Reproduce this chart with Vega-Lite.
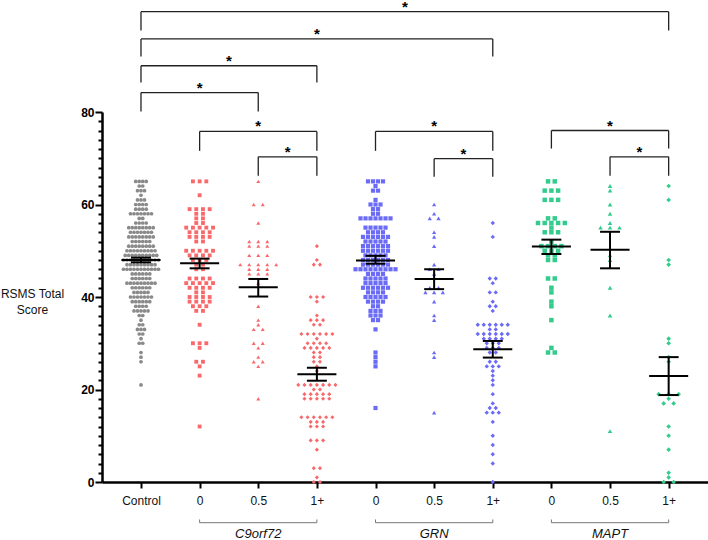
{
"$schema": "https://vega.github.io/schema/vega-lite/v6.json",
"width": 606,
"height": 370,
"autosize": {"type": "none"},
"padding": {"left": 102, "top": 112, "right": 0, "bottom": 58},
"config": {"view": {"stroke": null}, "font": "Liberation Sans"},
"datasets": {
"points": [
{"group":0,"score":65},{"group":0,"score":65},{"group":0,"score":65},{"group":0,"score":65},
{"group":0,"score":64},{"group":0,"score":64},
{"group":0,"score":63},{"group":0,"score":63},{"group":0,"score":63},
{"group":0,"score":62},
{"group":0,"score":61},{"group":0,"score":61},{"group":0,"score":61},
{"group":0,"score":60},{"group":0,"score":60},{"group":0,"score":60},{"group":0,"score":60},
{"group":0,"score":59},{"group":0,"score":59},{"group":0,"score":59},{"group":0,"score":59},
{"group":0,"score":58},{"group":0,"score":58},{"group":0,"score":58},{"group":0,"score":58},{"group":0,"score":58},{"group":0,"score":58},{"group":0,"score":58},
{"group":0,"score":57},{"group":0,"score":57},
{"group":0,"score":56},{"group":0,"score":56},{"group":0,"score":56},{"group":0,"score":56},
{"group":0,"score":55},{"group":0,"score":55},{"group":0,"score":55},{"group":0,"score":55},{"group":0,"score":55},{"group":0,"score":55},{"group":0,"score":55},{"group":0,"score":55},
{"group":0,"score":54},{"group":0,"score":54},{"group":0,"score":54},{"group":0,"score":54},{"group":0,"score":54},{"group":0,"score":54},{"group":0,"score":54},
{"group":0,"score":53},{"group":0,"score":53},{"group":0,"score":53},{"group":0,"score":53},{"group":0,"score":53},{"group":0,"score":53},{"group":0,"score":53},{"group":0,"score":53},
{"group":0,"score":52},{"group":0,"score":52},{"group":0,"score":52},{"group":0,"score":52},{"group":0,"score":52},{"group":0,"score":52},
{"group":0,"score":51},{"group":0,"score":51},{"group":0,"score":51},{"group":0,"score":51},{"group":0,"score":51},{"group":0,"score":51},{"group":0,"score":51},{"group":0,"score":51},
{"group":0,"score":50},{"group":0,"score":50},{"group":0,"score":50},{"group":0,"score":50},{"group":0,"score":50},{"group":0,"score":50},{"group":0,"score":50},{"group":0,"score":50},{"group":0,"score":50},
{"group":0,"score":49},{"group":0,"score":49},{"group":0,"score":49},{"group":0,"score":49},{"group":0,"score":49},{"group":0,"score":49},{"group":0,"score":49},{"group":0,"score":49},{"group":0,"score":49},{"group":0,"score":49},
{"group":0,"score":48},{"group":0,"score":48},{"group":0,"score":48},{"group":0,"score":48},{"group":0,"score":48},{"group":0,"score":48},{"group":0,"score":48},{"group":0,"score":48},{"group":0,"score":48},{"group":0,"score":48},{"group":0,"score":48},
{"group":0,"score":47},{"group":0,"score":47},{"group":0,"score":47},{"group":0,"score":47},{"group":0,"score":47},{"group":0,"score":47},{"group":0,"score":47},{"group":0,"score":47},{"group":0,"score":47},
{"group":0,"score":46},{"group":0,"score":46},{"group":0,"score":46},{"group":0,"score":46},{"group":0,"score":46},{"group":0,"score":46},{"group":0,"score":46},{"group":0,"score":46},{"group":0,"score":46},{"group":0,"score":46},{"group":0,"score":46},
{"group":0,"score":45},{"group":0,"score":45},{"group":0,"score":45},{"group":0,"score":45},{"group":0,"score":45},{"group":0,"score":45},
{"group":0,"score":44},{"group":0,"score":44},{"group":0,"score":44},{"group":0,"score":44},{"group":0,"score":44},{"group":0,"score":44},
{"group":0,"score":43},{"group":0,"score":43},{"group":0,"score":43},{"group":0,"score":43},{"group":0,"score":43},{"group":0,"score":43},{"group":0,"score":43},{"group":0,"score":43},{"group":0,"score":43},
{"group":0,"score":42},{"group":0,"score":42},{"group":0,"score":42},{"group":0,"score":42},{"group":0,"score":42},{"group":0,"score":42},
{"group":0,"score":41},{"group":0,"score":41},{"group":0,"score":41},{"group":0,"score":41},{"group":0,"score":41},
{"group":0,"score":40},{"group":0,"score":40},{"group":0,"score":40},{"group":0,"score":40},{"group":0,"score":40},{"group":0,"score":40},{"group":0,"score":40},
{"group":0,"score":39},{"group":0,"score":39},{"group":0,"score":39},{"group":0,"score":39},{"group":0,"score":39},{"group":0,"score":39},
{"group":0,"score":38},{"group":0,"score":38},{"group":0,"score":38},{"group":0,"score":38},
{"group":0,"score":37},{"group":0,"score":37},{"group":0,"score":37},{"group":0,"score":37},{"group":0,"score":37},
{"group":0,"score":36},{"group":0,"score":36},
{"group":0,"score":35},
{"group":0,"score":34},{"group":0,"score":34},
{"group":0,"score":33},{"group":0,"score":33},{"group":0,"score":33},
{"group":0,"score":32},{"group":0,"score":32},
{"group":0,"score":31},
{"group":0,"score":30},{"group":0,"score":30},
{"group":0,"score":28},{"group":0,"score":27},{"group":0,"score":26},{"group":0,"score":21},

{"group":1,"score":65},{"group":1,"score":65},{"group":1,"score":65},
{"group":1,"score":62},
{"group":1,"score":59},{"group":1,"score":59},{"group":1,"score":59},{"group":1,"score":59},
{"group":1,"score":58},{"group":1,"score":58},
{"group":1,"score":57},{"group":1,"score":57},
{"group":1,"score":56},{"group":1,"score":56},
{"group":1,"score":55},{"group":1,"score":55},{"group":1,"score":55},{"group":1,"score":55},{"group":1,"score":55},
{"group":1,"score":54},{"group":1,"score":54},{"group":1,"score":54},{"group":1,"score":54},
{"group":1,"score":53},{"group":1,"score":53},{"group":1,"score":53},{"group":1,"score":53},
{"group":1,"score":52},{"group":1,"score":52},
{"group":1,"score":50},{"group":1,"score":50},{"group":1,"score":50},{"group":1,"score":50},{"group":1,"score":50},
{"group":1,"score":49},{"group":1,"score":49},{"group":1,"score":49},{"group":1,"score":49},
{"group":1,"score":48},{"group":1,"score":48},{"group":1,"score":48},
{"group":1,"score":47},{"group":1,"score":47},
{"group":1,"score":46},{"group":1,"score":46},
{"group":1,"score":44},{"group":1,"score":44},{"group":1,"score":44},{"group":1,"score":44},
{"group":1,"score":43},{"group":1,"score":43},{"group":1,"score":43},{"group":1,"score":43},{"group":1,"score":43},
{"group":1,"score":42},{"group":1,"score":42},{"group":1,"score":42},{"group":1,"score":42},
{"group":1,"score":41},{"group":1,"score":41},
{"group":1,"score":40},{"group":1,"score":40},{"group":1,"score":40},{"group":1,"score":40},
{"group":1,"score":39},{"group":1,"score":39},{"group":1,"score":39},{"group":1,"score":39},
{"group":1,"score":38},{"group":1,"score":38},{"group":1,"score":38},
{"group":1,"score":37},{"group":1,"score":37},
{"group":1,"score":34},
{"group":1,"score":30},{"group":1,"score":30},{"group":1,"score":30},
{"group":1,"score":29},
{"group":1,"score":26},{"group":1,"score":26},
{"group":1,"score":25},{"group":1,"score":23},{"group":1,"score":12},

{"group":2,"score":65},
{"group":2,"score":60},{"group":2,"score":60},
{"group":2,"score":56},
{"group":2,"score":52},{"group":2,"score":52},{"group":2,"score":52},
{"group":2,"score":51},{"group":2,"score":51},{"group":2,"score":51},
{"group":2,"score":49},{"group":2,"score":49},{"group":2,"score":49},
{"group":2,"score":47},{"group":2,"score":47},{"group":2,"score":47},{"group":2,"score":47},{"group":2,"score":47},
{"group":2,"score":46},{"group":2,"score":46},{"group":2,"score":46},
{"group":2,"score":45},{"group":2,"score":45},{"group":2,"score":45},
{"group":2,"score":43},{"group":2,"score":38},{"group":2,"score":35},{"group":2,"score":34},
{"group":2,"score":33},{"group":2,"score":33},
{"group":2,"score":30},{"group":2,"score":30},
{"group":2,"score":29},{"group":2,"score":27},
{"group":2,"score":26},{"group":2,"score":26},
{"group":2,"score":25},{"group":2,"score":18},

{"group":3,"score":51},{"group":3,"score":48},
{"group":3,"score":47},{"group":3,"score":47},
{"group":3,"score":40},{"group":3,"score":40},{"group":3,"score":40},
{"group":3,"score":39},{"group":3,"score":36},
{"group":3,"score":35},{"group":3,"score":35},{"group":3,"score":35},
{"group":3,"score":34},{"group":3,"score":34},
{"group":3,"score":32},{"group":3,"score":32},{"group":3,"score":32},{"group":3,"score":32},{"group":3,"score":32},{"group":3,"score":32},
{"group":3,"score":31},
{"group":3,"score":30},{"group":3,"score":30},{"group":3,"score":30},{"group":3,"score":30},
{"group":3,"score":29},{"group":3,"score":29},{"group":3,"score":29},{"group":3,"score":29},{"group":3,"score":29},
{"group":3,"score":28},{"group":3,"score":28},
{"group":3,"score":27},{"group":3,"score":27},
{"group":3,"score":26},{"group":3,"score":26},
{"group":3,"score":25},{"group":3,"score":24},
{"group":3,"score":21},{"group":3,"score":21},{"group":3,"score":21},{"group":3,"score":21},{"group":3,"score":21},{"group":3,"score":21},{"group":3,"score":21},
{"group":3,"score":20},{"group":3,"score":20},
{"group":3,"score":19},{"group":3,"score":19},{"group":3,"score":19},{"group":3,"score":19},{"group":3,"score":19},
{"group":3,"score":18},{"group":3,"score":18},{"group":3,"score":18},{"group":3,"score":18},{"group":3,"score":18},
{"group":3,"score":14},{"group":3,"score":14},{"group":3,"score":14},{"group":3,"score":14},{"group":3,"score":14},{"group":3,"score":14},
{"group":3,"score":13},{"group":3,"score":13},{"group":3,"score":13},
{"group":3,"score":12},{"group":3,"score":12},{"group":3,"score":12},
{"group":3,"score":9},{"group":3,"score":9},{"group":3,"score":9},
{"group":3,"score":7},
{"group":3,"score":3},{"group":3,"score":3},
{"group":3,"score":1},
{"group":3,"score":0},{"group":3,"score":0},

{"group":4,"score":65},{"group":4,"score":65},{"group":4,"score":65},{"group":4,"score":65},
{"group":4,"score":64},
{"group":4,"score":63},{"group":4,"score":63},
{"group":4,"score":61},
{"group":4,"score":60},{"group":4,"score":60},{"group":4,"score":60},
{"group":4,"score":59},{"group":4,"score":59},
{"group":4,"score":58},{"group":4,"score":58},
{"group":4,"score":57},{"group":4,"score":57},{"group":4,"score":57},{"group":4,"score":57},{"group":4,"score":57},{"group":4,"score":57},{"group":4,"score":57},
{"group":4,"score":55},{"group":4,"score":55},{"group":4,"score":55},{"group":4,"score":55},{"group":4,"score":55},
{"group":4,"score":54},{"group":4,"score":54},{"group":4,"score":54},{"group":4,"score":54},
{"group":4,"score":53},{"group":4,"score":53},{"group":4,"score":53},{"group":4,"score":53},{"group":4,"score":53},{"group":4,"score":53},
{"group":4,"score":52},{"group":4,"score":52},{"group":4,"score":52},{"group":4,"score":52},{"group":4,"score":52},
{"group":4,"score":51},{"group":4,"score":51},{"group":4,"score":51},{"group":4,"score":51},{"group":4,"score":51},{"group":4,"score":51},
{"group":4,"score":50},{"group":4,"score":50},{"group":4,"score":50},{"group":4,"score":50},{"group":4,"score":50},{"group":4,"score":50},
{"group":4,"score":49},{"group":4,"score":49},{"group":4,"score":49},{"group":4,"score":49},{"group":4,"score":49},
{"group":4,"score":48},{"group":4,"score":48},{"group":4,"score":48},{"group":4,"score":48},{"group":4,"score":48},{"group":4,"score":48},
{"group":4,"score":47},{"group":4,"score":47},{"group":4,"score":47},{"group":4,"score":47},{"group":4,"score":47},{"group":4,"score":47},
{"group":4,"score":46},{"group":4,"score":46},{"group":4,"score":46},{"group":4,"score":46},{"group":4,"score":46},{"group":4,"score":46},{"group":4,"score":46},{"group":4,"score":46},{"group":4,"score":46},
{"group":4,"score":45},{"group":4,"score":45},{"group":4,"score":45},{"group":4,"score":45},
{"group":4,"score":44},{"group":4,"score":44},{"group":4,"score":44},{"group":4,"score":44},{"group":4,"score":44},
{"group":4,"score":43},{"group":4,"score":43},{"group":4,"score":43},{"group":4,"score":43},{"group":4,"score":43},
{"group":4,"score":42},{"group":4,"score":42},{"group":4,"score":42},{"group":4,"score":42},{"group":4,"score":42},{"group":4,"score":42},
{"group":4,"score":41},{"group":4,"score":41},{"group":4,"score":41},{"group":4,"score":41},
{"group":4,"score":40},{"group":4,"score":40},{"group":4,"score":40},{"group":4,"score":40},{"group":4,"score":40},
{"group":4,"score":39},{"group":4,"score":39},{"group":4,"score":39},{"group":4,"score":39},
{"group":4,"score":38},{"group":4,"score":38},
{"group":4,"score":37},{"group":4,"score":37},{"group":4,"score":37},
{"group":4,"score":36},{"group":4,"score":36},{"group":4,"score":36},
{"group":4,"score":35},{"group":4,"score":35},
{"group":4,"score":33},{"group":4,"score":28},{"group":4,"score":27},{"group":4,"score":26},{"group":4,"score":25},{"group":4,"score":16},

{"group":5,"score":60},{"group":5,"score":58},
{"group":5,"score":57},{"group":5,"score":57},
{"group":5,"score":54},{"group":5,"score":53},{"group":5,"score":51},{"group":5,"score":47},
{"group":5,"score":46},{"group":5,"score":46},
{"group":5,"score":45},
{"group":5,"score":42},{"group":5,"score":42},
{"group":5,"score":41},{"group":5,"score":41},{"group":5,"score":41},
{"group":5,"score":39},{"group":5,"score":36},{"group":5,"score":35},{"group":5,"score":28},{"group":5,"score":27},{"group":5,"score":15},

{"group":6,"score":56},{"group":6,"score":53},
{"group":6,"score":44},{"group":6,"score":44},
{"group":6,"score":43},
{"group":6,"score":41},{"group":6,"score":41},
{"group":6,"score":39},
{"group":6,"score":38},{"group":6,"score":38},
{"group":6,"score":37},
{"group":6,"score":34},{"group":6,"score":34},{"group":6,"score":34},{"group":6,"score":34},{"group":6,"score":34},{"group":6,"score":34},
{"group":6,"score":33},{"group":6,"score":33},
{"group":6,"score":32},{"group":6,"score":32},{"group":6,"score":32},{"group":6,"score":32},{"group":6,"score":32},{"group":6,"score":32},
{"group":6,"score":31},{"group":6,"score":31},{"group":6,"score":31},{"group":6,"score":31},
{"group":6,"score":30},{"group":6,"score":30},{"group":6,"score":30},
{"group":6,"score":29},{"group":6,"score":29},{"group":6,"score":29},
{"group":6,"score":28},{"group":6,"score":28},
{"group":6,"score":26},{"group":6,"score":26},
{"group":6,"score":25},{"group":6,"score":25},{"group":6,"score":25},
{"group":6,"score":24},{"group":6,"score":23},{"group":6,"score":22},{"group":6,"score":21},{"group":6,"score":19},{"group":6,"score":17},
{"group":6,"score":16},{"group":6,"score":16},
{"group":6,"score":15},{"group":6,"score":15},{"group":6,"score":15},
{"group":6,"score":13},{"group":6,"score":10},{"group":6,"score":8},{"group":6,"score":6},{"group":6,"score":4},{"group":6,"score":0},

{"group":7,"score":65},{"group":7,"score":65},
{"group":7,"score":63},{"group":7,"score":63},{"group":7,"score":63},
{"group":7,"score":61},{"group":7,"score":61},{"group":7,"score":61},
{"group":7,"score":57},{"group":7,"score":57},
{"group":7,"score":56},{"group":7,"score":56},{"group":7,"score":56},{"group":7,"score":56},{"group":7,"score":56},
{"group":7,"score":55},
{"group":7,"score":54},{"group":7,"score":54},{"group":7,"score":54},
{"group":7,"score":52},
{"group":7,"score":51},{"group":7,"score":51},{"group":7,"score":51},{"group":7,"score":51},
{"group":7,"score":50},{"group":7,"score":50},{"group":7,"score":50},
{"group":7,"score":49},{"group":7,"score":49},
{"group":7,"score":48},{"group":7,"score":48},
{"group":7,"score":44},{"group":7,"score":44},
{"group":7,"score":42},{"group":7,"score":41},{"group":7,"score":39},{"group":7,"score":38},{"group":7,"score":35},{"group":7,"score":29},
{"group":7,"score":28},{"group":7,"score":28},

{"group":8,"score":64},{"group":8,"score":63},{"group":8,"score":60},{"group":8,"score":58},{"group":8,"score":56},
{"group":8,"score":55},{"group":8,"score":55},{"group":8,"score":55},
{"group":8,"score":49},{"group":8,"score":48},{"group":8,"score":42},{"group":8,"score":36},{"group":8,"score":11},

{"group":9,"score":64},{"group":9,"score":61},{"group":9,"score":48},{"group":9,"score":47},{"group":9,"score":31},{"group":9,"score":30},
{"group":9,"score":27},{"group":9,"score":26},
{"group":9,"score":19},{"group":9,"score":19},{"group":9,"score":19},
{"group":9,"score":18},
{"group":9,"score":17},{"group":9,"score":17},
{"group":9,"score":12},{"group":9,"score":10},{"group":9,"score":7},{"group":9,"score":2},{"group":9,"score":1},
{"group":9,"score":0},{"group":9,"score":0}
],
"stats": [
{"group":0,"mean":48.0,"lo":47.5,"hi":48.5},
{"group":1,"mean":47.3,"lo":46.2,"hi":48.3},
{"group":2,"mean":42.1,"lo":40.1,"hi":43.9},
{"group":3,"mean":23.3,"lo":21.9,"hi":24.7},
{"group":4,"mean":47.9,"lo":47.2,"hi":48.9},
{"group":5,"mean":43.9,"lo":41.7,"hi":46.0},
{"group":6,"mean":28.7,"lo":26.9,"hi":30.5},
{"group":7,"mean":50.9,"lo":49.3,"hi":52.4},
{"group":8,"mean":50.2,"lo":46.2,"hi":54.1},
{"group":9,"mean":22.9,"lo":18.8,"hi":27.0}
],
"sig": [
{"a":0,"b":9,"top":101.7,"bot":97.6},
{"a":0,"b":6,"top":95.8,"bot":92.0},
{"a":0,"b":3,"top":90.0,"bot":86.4},
{"a":0,"b":2,"top":84.2,"bot":80.1},
{"a":1,"b":3,"top":75.8,"bot":71.6},
{"a":2,"b":3,"top":70.3,"bot":66.2},
{"a":4,"b":6,"top":75.8,"bot":71.6},
{"a":5,"b":6,"top":69.9,"bot":66.0},
{"a":7,"b":9,"top":76.0,"bot":72.1},
{"a":8,"b":9,"top":70.3,"bot":66.2}
],
"genes": [
{"a":1,"b":3,"gene":"C9orf72"},
{"a":4,"b":6,"gene":"GRN"},
{"a":7,"b":9,"gene":"MAPT"}
]
},
"layer": [
{
"data": {"name": "points"},
"transform": [
{"window": [{"op": "row_number", "as": "rk"}], "groupby": ["group", "score"]},
{"joinaggregate": [{"op": "count", "as": "cnt"}], "groupby": ["group", "score"]},
{"calculate": "datum.group + (datum.rk - (datum.cnt + 1) / 2) * [3.5, 6.7, 9, 6.2, 5, 8.7, 6, 6.7, 9.5, 10][datum.group] / 58.63", "as": "xpos"}
],
"mark": {"type": "point", "filled": true, "opacity": 1, "strokeWidth": 0},
"encoding": {
"x": {"field": "xpos", "type": "quantitative", "scale": {"domain": [-0.665, 9.671], "nice": false, "zero": false},
"axis": {"values": [0,1,2,3,4,5,6,7,8,9], "tickCount": 100, "labelExpr": "['Control','0','0.5','1+','0','0.5','1+','0','0.5','1+'][datum.value]", "title": null, "grid": false, "domainColor": "#000", "domainWidth": 2.5, "tickColor": "#000", "tickWidth": 2, "tickSize": 6, "labelFontSize": 12, "labelColor": "#111", "labelPadding": 7, "labelFlush": false, "labelOverlap": false}},
"y": {"field": "score", "type": "quantitative", "scale": {"domain": [0, 80], "nice": false, "zero": false},
"axis": {"values": [0,2,4,6,8,10,12,14,16,18,20,22,24,26,28,30,32,34,36,38,40,42,44,46,48,50,52,54,56,58,60,62,64,66,68,70,72,74,76,78,80], "tickCount": 100, "labelExpr": "datum.value % 20 == 0 ? datum.label : ''", "title": ["RSMS Total", "Score"], "titleAngle": 0, "titleAlign": "center", "titleBaseline": "middle", "titleLineHeight": 16, "titleX": -70, "titleY": 181, "titleFontSize": 12, "titleFontWeight": "normal", "titleColor": "#111", "grid": false, "domainColor": "#000", "domainWidth": 2.5, "tickColor": "#000", "tickWidth": 2, "tickSize": {"condition": {"test": "datum.value % 20 == 0", "value": 7}, "value": 4}, "labelFontSize": 12, "labelFontWeight": "bold", "labelPadding": 1, "labelColor": "#000", "labelOverlap": false, "labelFlush": false}},
"shape": {"field": "group", "type": "nominal", "scale": {"domain": [0,1,2,3,4,5,6,7,8,9], "range": ["circle","square","triangle-up","diamond","square","triangle-up","diamond","square","triangle-up","diamond"]}, "legend": null},
"color": {"field": "group", "type": "nominal", "scale": {"domain": [0,1,2,3,4,5,6,7,8,9], "range": ["#8a8a8a","#f8696b","#f8696b","#f8696b","#6b6bf6","#6b6bf6","#6b6bf6","#33cc8c","#33cc8c","#33cc8c"]}, "legend": null},
"size": {"field": "group", "type": "ordinal", "scale": {"domain": [0,1,2,3,4,5,6,7,8,9], "range": [14,22,36,34,20,36,34,22,36,34]}, "legend": null}
}
},
{
"data": {"name": "stats"},
"transform": [
{"calculate": "datum.group - 0.333", "as": "ml"},
{"calculate": "datum.group + 0.333", "as": "mr"},
{"calculate": "datum.group - 0.17", "as": "cl"},
{"calculate": "datum.group + 0.17", "as": "cr"}
],
"layer": [
{"mark": {"type": "rule", "strokeWidth": 2, "color": "#000"},
"encoding": {"x": {"field": "ml", "type": "quantitative"}, "x2": {"field": "mr"}, "y": {"field": "mean", "type": "quantitative"}}},
{"mark": {"type": "rule", "strokeWidth": 2, "color": "#000"},
"encoding": {"x": {"field": "group", "type": "quantitative"}, "y": {"field": "lo", "type": "quantitative"}, "y2": {"field": "hi"}}},
{"mark": {"type": "rule", "strokeWidth": 2, "color": "#000"},
"encoding": {"x": {"field": "cl", "type": "quantitative"}, "x2": {"field": "cr"}, "y": {"field": "lo", "type": "quantitative"}}},
{"mark": {"type": "rule", "strokeWidth": 2, "color": "#000"},
"encoding": {"x": {"field": "cl", "type": "quantitative"}, "x2": {"field": "cr"}, "y": {"field": "hi", "type": "quantitative"}}}
]
},
{
"data": {"name": "sig"},
"transform": [{"calculate": "(datum.a + datum.b) / 2", "as": "mid"}],
"layer": [
{"mark": {"type": "rule", "strokeWidth": 1.3, "color": "#222"},
"encoding": {"x": {"field": "a", "type": "quantitative"}, "x2": {"field": "b"}, "y": {"field": "top", "type": "quantitative"}}},
{"mark": {"type": "rule", "strokeWidth": 1.3, "color": "#222"},
"encoding": {"x": {"field": "a", "type": "quantitative"}, "y": {"field": "top", "type": "quantitative"}, "y2": {"field": "bot"}}},
{"mark": {"type": "rule", "strokeWidth": 1.3, "color": "#222"},
"encoding": {"x": {"field": "b", "type": "quantitative"}, "y": {"field": "top", "type": "quantitative"}, "y2": {"field": "bot"}}},
{"mark": {"type": "text", "fontSize": 15, "fontWeight": "bold", "baseline": "alphabetic", "align": "center", "color": "#000"},
"encoding": {"x": {"field": "mid", "type": "quantitative"}, "y": {"field": "top", "type": "quantitative"}, "text": {"value": "*"}}}
]
},
{
"data": {"name": "genes"},
"transform": [{"calculate": "(datum.a + datum.b) / 2", "as": "mid"}],
"layer": [
{"mark": {"type": "rule", "strokeWidth": 1, "color": "#777"},
"encoding": {"x": {"field": "a", "type": "quantitative"}, "x2": {"field": "b"}, "y": {"datum": -8.8, "type": "quantitative"}}},
{"mark": {"type": "rule", "strokeWidth": 1, "color": "#777"},
"encoding": {"x": {"field": "a", "type": "quantitative"}, "y": {"datum": -8.8, "type": "quantitative"}, "y2": {"datum": -8.1}}},
{"mark": {"type": "rule", "strokeWidth": 1, "color": "#777"},
"encoding": {"x": {"field": "b", "type": "quantitative"}, "y": {"datum": -8.8, "type": "quantitative"}, "y2": {"datum": -8.1}}},
{"mark": {"type": "text", "fontSize": 13, "fontStyle": "italic", "baseline": "middle", "align": "center", "color": "#111"},
"encoding": {"x": {"field": "mid", "type": "quantitative"}, "y": {"datum": -11.2, "type": "quantitative"}, "text": {"field": "gene"}}}
]
}
]
}
